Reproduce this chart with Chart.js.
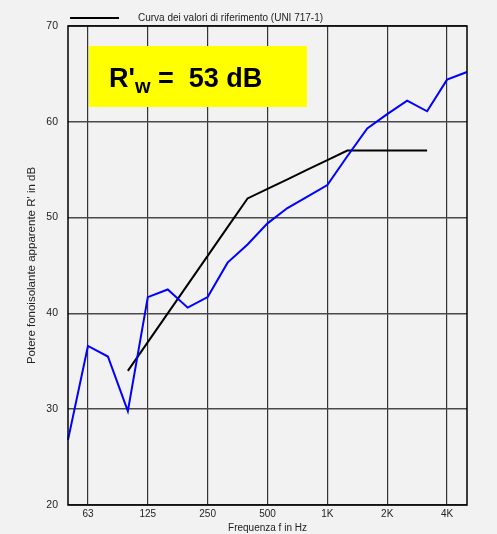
<!DOCTYPE html>
<html>
<head>
<meta charset="utf-8">
<script src="https://cdn.jsdelivr.net/npm/chart.js@4/dist/chart.umd.min.js"></script>
<style>
  html, body { margin: 0; padding: 0; background: #f2f2f2; }
  #wrap { width: 497px; height: 534px; }
</style>
</head>
<body>
<div id="wrap"><canvas id="chart" width="497" height="534"></canvas></div>
<script>
// third octave bands, 50 Hz .. 5 kHz
const bands = ["50", "63", "80", "100", "125", "160", "200", "250", "315", "400", "500",
  "630", "800", "1000", "1250", "1600", "2000", "2500", "3150", "4000", "5000"];
const shownTicks = { "63": "63", "125": "125", "250": "250", "500": "500", "1000": "1K", "2000": "2K", "4000": "4K" };

// measured R' (dB)
const measured = [26.8, 36.6, 35.5, 29.8, 41.7, 42.5, 40.6, 41.7, 45.3, 47.2, 49.4,
  51.0, 52.2, 53.4, 56.4, 59.3, 60.8, 62.2, 61.1, 64.4, 65.2];

// reference curve (UNI 717-1), 100 Hz .. 3150 Hz
const reference = [null, null, null, 34, 37, 40, 43, 46, 49, 52, 53,
  54, 55, 56, 57, 57, 57, 57, 57, null, null];

const yTicks = [20, 30, 40, 50, 60, 70];
const legendText = "Curva dei valori di riferimento (UNI 717-1)";
const ratingText = "R'";
const ratingSub = "w";
const ratingValue = " =  53 dB";

const FONT = "'Liberation Sans', Arial, sans-serif";
const BOLD = "'Liberation Sans', Arial, sans-serif";

// legend + yellow box drawn by hand
const extras = {
  id: "extras",
  afterDatasetsDraw(chart) {
    const ctx = chart.ctx;
    const area = chart.chartArea;
    ctx.save();
    // legend line
    ctx.strokeStyle = "#000";
    ctx.lineWidth = 2;
    ctx.beginPath();
    ctx.moveTo(area.left + 2, 18);
    ctx.lineTo(area.left + 51, 18);
    ctx.stroke();
    ctx.fillStyle = "#222";
    ctx.font = "10px " + FONT;
    ctx.textBaseline = "middle";
    ctx.fillText(legendText, area.left + 70, 18);

    // yellow box
    ctx.fillStyle = "#ffff00";
    ctx.fillRect(area.left + 21, area.top + 20, 218, 61);
    ctx.fillStyle = "#000";
    ctx.textBaseline = "alphabetic";
    ctx.font = "bold 27px " + BOLD;
    let x = area.left + 41;
    const base = area.top + 61;
    ctx.fillText(ratingText, x, base);
    x += ctx.measureText(ratingText).width;
    ctx.font = "bold 20px " + BOLD;
    ctx.fillText(ratingSub, x, base + 6);
    x += ctx.measureText(ratingSub).width;
    ctx.font = "bold 27px " + BOLD;
    ctx.fillText(ratingValue, x, base);

    // frame
    ctx.strokeStyle = "#000";
    ctx.lineWidth = 1.5;
    ctx.strokeRect(area.left, area.top, area.right - area.left, area.bottom - area.top);
    ctx.restore();
  }
};

new Chart(document.getElementById("chart"), {
  type: "line",
  data: {
    labels: bands,
    datasets: [
      { label: "R'", data: measured, borderColor: "#0000ff", borderWidth: 2, pointRadius: 0, tension: 0 },
      { label: "rif", data: reference, borderColor: "#000000", borderWidth: 2, pointRadius: 0, tension: 0, spanGaps: false }
    ]
  },
  options: {
    responsive: false,
    animation: false,
    layout: { padding: { left: 25, right: 30, top: 26, bottom: 0 } },
    plugins: { legend: { display: false }, tooltip: { enabled: false } },
    scales: {
      x: {
        type: "category",
        offset: false,
        afterFit: (s) => { s.height = 29; },
        grid: {
          drawTicks: false,
          color: (c) => (c.tick && shownTicks[bands[c.index]]) ? "#333" : "rgba(0,0,0,0)",
          lineWidth: 1.2
        },
        border: { display: false },
        ticks: {
          autoSkip: false,
          maxRotation: 0,
          padding: 3,
          color: "#222",
          font: { family: FONT, size: 10 },
          callback: (v, i) => shownTicks[bands[i]] || ""
        },
        title: { display: true, text: "Frequenza f in Hz", color: "#222", font: { family: FONT, size: 10 }, padding: { top: 0, bottom: 0 } }
      },
      y: {
        min: 20,
        max: 70,
        afterFit: (s) => { s.width = 43; },
        afterBuildTicks: (s) => { s.ticks = yTicks.map(v => ({ value: v })); },
        grid: { drawTicks: false, color: "#4a4a4a", lineWidth: 1.5 },
        border: { display: false },
        ticks: { padding: 10, color: "#222", font: { family: FONT, size: 10.5 } },
        title: { display: true, text: "Potere fonoisolante apparente R' in dB", color: "#222", font: { family: FONT, size: 11.5 }, padding: { top: 0, bottom: 0 } }
      }
    }
  },
  plugins: [extras]
});
</script>
</body>
</html>
